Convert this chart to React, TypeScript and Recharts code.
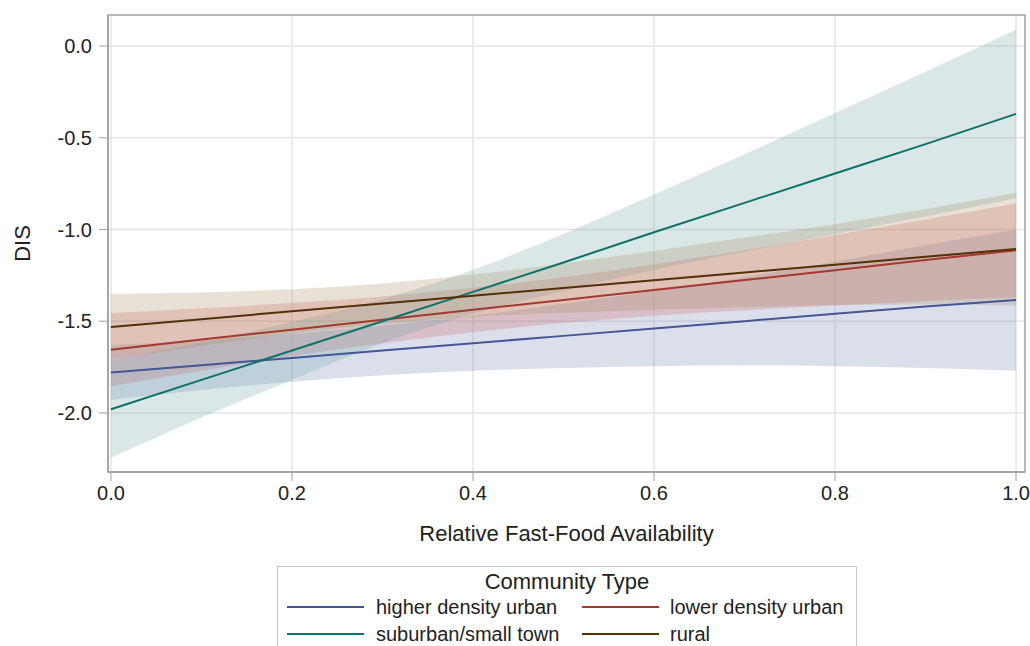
import React from 'react';
import { ComposedChart, Area, Line, XAxis, YAxis, CartesianGrid, ReferenceArea } from 'recharts';

// relative fast-food availability (x)
const xs = [0, 0.1, 0.2, 0.3, 0.4, 0.5, 0.6, 0.7, 0.8, 0.9, 1.0];

// higher density urban
const higherLine = [-1.78, -1.74, -1.70, -1.66, -1.62, -1.58, -1.54, -1.50, -1.46, -1.42, -1.385];
const higherLow = [-1.93, -1.875, -1.83, -1.795, -1.77, -1.755, -1.745, -1.74, -1.745, -1.755, -1.77];
const higherHigh = [-1.63, -1.605, -1.57, -1.525, -1.47, -1.405, -1.335, -1.26, -1.175, -1.085, -1.0];

// lower density urban
const lowerLine = [-1.655, -1.60, -1.546, -1.492, -1.438, -1.384, -1.33, -1.276, -1.222, -1.167, -1.113];
const lowerLow = [-1.855, -1.77, -1.69, -1.62, -1.56, -1.51, -1.47, -1.44, -1.415, -1.39, -1.37];
const lowerHigh = [-1.455, -1.43, -1.40, -1.365, -1.318, -1.26, -1.19, -1.113, -1.03, -0.945, -0.858];

// suburban/small town
const suburbLine = [-1.98, -1.82, -1.66, -1.50, -1.34, -1.18, -1.015, -0.855, -0.695, -0.535, -0.37];
const suburbLow = [-2.245, -2.025, -1.82, -1.62, -1.46, -1.335, -1.22, -1.12, -1.025, -0.93, -0.83];
const suburbHigh = [-1.715, -1.615, -1.505, -1.38, -1.22, -1.025, -0.81, -0.59, -0.365, -0.14, 0.09];

// rural
const ruralLine = [-1.531, -1.489, -1.446, -1.404, -1.361, -1.319, -1.277, -1.234, -1.192, -1.149, -1.107];
const ruralLow = [-1.71, -1.635, -1.566, -1.514, -1.476, -1.454, -1.437, -1.424, -1.412, -1.409, -1.414];
const ruralHigh = [-1.35, -1.343, -1.326, -1.294, -1.246, -1.184, -1.117, -1.044, -0.972, -0.889, -0.80];

const xTicks = [0, 0.2, 0.4, 0.6, 0.8, 1.0];
const yTicks = [-2.0, -1.5, -1.0, -0.5, 0.0];

const series = [
  { key: 'higher', name: 'higher density urban', line: higherLine, low: higherLow, high: higherHigh, stroke: '#445694', fill: '#6f7eb3' },
  { key: 'lower', name: 'lower density urban', line: lowerLine, low: lowerLow, high: lowerHigh, stroke: '#a23a2e', fill: '#d05b5b' },
  { key: 'suburb', name: 'suburban/small town', line: suburbLine, low: suburbLow, high: suburbHigh, stroke: '#0f7268', fill: '#66a5a0' },
  { key: 'rural', name: 'rural', line: ruralLine, low: ruralLow, high: ruralHigh, stroke: '#543005', fill: '#a9865b' },
];

const chartData = xs.map((x, i) => {
  const row: any = { x };
  series.forEach(s => {
    row[s.key] = s.line[i];
    row[s.key + 'Band'] = [s.low[i], s.high[i]];
  });
  return row;
});

const FONT = '"Liberation Sans", Arial, sans-serif';
const xDomain = [-0.0033, 1.0099];
const yDomain = [-2.322, 0.169];

const LegendBox = () => (
  <div style={{
    position: 'absolute', left: 277, top: 566, width: 580, height: 100,
    border: '1px solid #c8c8c8', boxSizing: 'border-box', fontFamily: FONT, color: '#222'
  }}>
    <div style={{ position: 'absolute', left: 0, right: 0, top: 2, lineHeight: '26px', fontSize: 22, textAlign: 'center' }}>
      Community Type
    </div>
    {series.map((s, i) => {
      const col = i % 2;
      const row = Math.floor(i / 2);
      const cy = 40 + row * 27;
      const lineLeft = col === 0 ? 9 : 304;
      const textLeft = col === 0 ? 98 : 392;
      return (
        <React.Fragment key={s.key}>
          <div style={{ position: 'absolute', left: lineLeft, top: cy - 1, width: 77, height: 2, background: s.stroke }} />
          <div style={{ position: 'absolute', left: textLeft, top: cy - 12, lineHeight: '24px', fontSize: 20, whiteSpace: 'nowrap' }}>
            {s.name}
          </div>
        </React.Fragment>
      );
    })}
  </div>
);

export default function App() {
  return (
    <div style={{ position: 'absolute', left: 0, top: 0, width: 1030, height: 646, background: '#fff', overflow: 'hidden' }}>
      <ComposedChart width={1030} height={646} data={chartData} margin={{ top: 15, right: 5, bottom: 0, left: 0 }}>
        <CartesianGrid stroke="#e6e6e6" strokeWidth={1.5} />
        <XAxis
          dataKey="x"
          type="number"
          domain={xDomain}
          allowDataOverflow
          ticks={xTicks}
          tickFormatter={(v: number) => v.toFixed(1)}
          height={174}
          tickSize={9}
          tickMargin={5}
          axisLine={{ stroke: '#a0a0a0', strokeWidth: 1.5 }}
          tickLine={{ stroke: '#a0a0a0' }}
          tick={{ fill: '#222', fontSize: 20, fontFamily: FONT }}
          label={{ value: 'Relative Fast-Food Availability', position: 'insideTop', offset: 53, fill: '#222', fontSize: 22, fontFamily: FONT }}
        />
        <YAxis
          type="number"
          domain={yDomain}
          allowDataOverflow
          ticks={yTicks}
          tickFormatter={(v: number) => v.toFixed(1)}
          width={108}
          tickSize={9}
          tickMargin={7}
          axisLine={{ stroke: '#a0a0a0', strokeWidth: 1.5 }}
          tickLine={{ stroke: '#a0a0a0' }}
          tick={{ fill: '#222', fontSize: 20, fontFamily: FONT }}
          label={{ value: 'DIS', angle: -90, position: 'insideLeft', offset: 22, fill: '#222', fontSize: 22, fontFamily: FONT, style: { textAnchor: 'middle' } }}
        />
        {series.map(s => (
          <Area
            key={s.key + 'Band'}
            dataKey={s.key + 'Band'}
            type="monotone"
            stroke="none"
            fill={s.fill}
            fillOpacity={0.25}
            isAnimationActive={false}
            activeDot={false}
          />
        ))}
        {series.map(s => (
          <Line
            key={s.key}
            dataKey={s.key}
            type="linear"
            stroke={s.stroke}
            strokeWidth={2}
            dot={false}
            activeDot={false}
            isAnimationActive={false}
          />
        ))}
        <ReferenceArea x1={xDomain[0]} x2={xDomain[1]} y1={yDomain[0]} y2={yDomain[1]} fill="none" stroke="#a8a8a8" strokeWidth={1.5} />
      </ComposedChart>
      <LegendBox />
    </div>
  );
}
